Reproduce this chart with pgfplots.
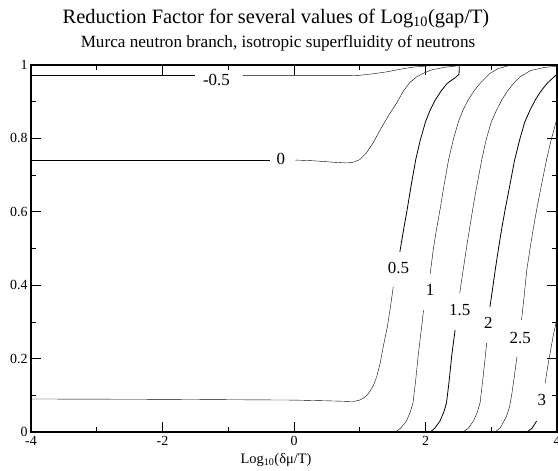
\documentclass[border=0pt]{standalone}
\usepackage{fontspec}
\setmainfont{Liberation Serif}
\usepackage{pgfplots}
\pgfplotsset{compat=1.18}
\begin{document}
\begin{tikzpicture}
\begin{axis}[
  name=ax,
  scale only axis, width=526bp, height=367bp,
  xmin=-4, xmax=4, ymin=0, ymax=1,
  xtick={-4,-2,0,2,4}, ytick={0,0.2,0.4,0.6,0.8,1},
  minor x tick num=1, minor y tick num=1,
  tick align=inside,
  major tick length=10bp, minor tick length=5bp,
  axis on top,
  axis line style={line width=1.5bp},
  every tick/.style={black, line width=0.8bp},
  tick label style={font=\fontsize{14}{14}\selectfont, black},
  xticklabel style={yshift=-1bp},
  /pgf/number format/assume math mode=true,
  cycle list={{black,solid,line width=0.8bp}},
  every axis plot/.append style={no marks},
]
% curve -0.5
\addplot coordinates {(-4,0.971) (-1.51,0.971)};
\addplot coordinates {(-0.78,0.971) (0.85,0.971) (1.0,0.972) (1.2,0.976) (1.4,0.981) (1.6,0.988) (1.8,0.994) (2.0,0.997) (2.2,0.999) (2.5,1.0) (4,1)};
% curve 0
\addplot coordinates {(-4,0.741) (-0.37,0.741)};
\addplot coordinates {(0.02,0.741) (0.3,0.739) (0.6,0.735) (0.8,0.733) (0.9,0.735) (1.0,0.742) (1.1,0.76) (1.2,0.787) (1.31,0.823) (1.45,0.866) (1.56,0.896) (1.66,0.928) (1.76,0.952) (1.86,0.967) (1.96,0.977) (2.1,0.987) (2.3,0.994) (2.5,0.998) (2.7,1) (4,1)};
% curve 0.5
\addplot coordinates {(-4,0.09) (-2,0.089) (0,0.087) (0.5,0.085) (0.9,0.083) (1.0,0.087) (1.06,0.093) (1.11,0.10) (1.16,0.112) (1.21,0.128) (1.26,0.152) (1.31,0.187) (1.36,0.235) (1.42,0.287) (1.47,0.345) (1.51,0.396)};
\addplot coordinates {(1.61,0.491) (1.67,0.555) (1.72,0.605) (1.78,0.67) (1.85,0.741) (1.92,0.795) (2.0,0.845) (2.07,0.877) (2.15,0.905) (2.24,0.93) (2.33,0.95) (2.47,0.968) (2.51,0.975) (2.515,1.0)};
% curve 1
\addplot coordinates {(1.54,0) (1.62,0.01) (1.71,0.03) (1.77,0.055) (1.81,0.08) (1.85,0.14) (1.89,0.21) (1.93,0.27) (1.97,0.332)};
\addplot coordinates {(2.07,0.43) (2.12,0.50) (2.17,0.555) (2.22,0.605) (2.28,0.67) (2.35,0.741) (2.42,0.795) (2.50,0.845) (2.57,0.877) (2.65,0.905) (2.74,0.93) (2.83,0.95) (2.98,0.977) (3.1,0.99) (3.3,1.0) (4,1)};
% curve 1.5
\addplot coordinates {(2.07,0) (2.14,0.01) (2.22,0.03) (2.28,0.055) (2.32,0.08) (2.36,0.14) (2.40,0.21) (2.45,0.278)};
\addplot coordinates {(2.52,0.378) (2.55,0.414) (2.58,0.45) (2.63,0.51) (2.68,0.565) (2.73,0.62) (2.79,0.68) (2.855,0.741) (2.92,0.795) (3.0,0.845) (3.08,0.877) (3.16,0.905) (3.25,0.93) (3.34,0.95) (3.44,0.968) (3.6,0.985) (3.8,0.993) (4,0.997)};
% curve 2
\addplot coordinates {(2.57,0) (2.65,0.01) (2.73,0.03) (2.79,0.055) (2.83,0.08) (2.87,0.14) (2.90,0.19) (2.93,0.242)};
\addplot coordinates {(2.98,0.341) (3.02,0.39) (3.06,0.441) (3.11,0.50) (3.16,0.555) (3.21,0.605) (3.28,0.67) (3.355,0.741) (3.43,0.795) (3.51,0.845) (3.59,0.877) (3.67,0.905) (3.76,0.93) (3.85,0.95) (4.0,0.975)};
% curve 2.5
\addplot coordinates {(3.06,0) (3.14,0.012) (3.23,0.042) (3.28,0.07) (3.31,0.10) (3.35,0.15) (3.39,0.205)};
\addplot coordinates {(3.46,0.305) (3.50,0.37) (3.54,0.441) (3.59,0.50) (3.64,0.555) (3.69,0.605) (3.76,0.67) (3.84,0.741) (3.91,0.795) (4.0,0.855)};
% curve 3
\addplot coordinates {(3.54,0) (3.62,0.01) (3.69,0.03)};
\addplot coordinates {(3.82,0.133) (3.86,0.18) (3.90,0.22) (3.94,0.26) (4.0,0.31)};
% labels
\node[font=\fontsize{17}{17}\selectfont] at (axis cs:-1.18,0.958) {-0.5};
\node[font=\fontsize{17}{17}\selectfont] at (axis cs:-0.20,0.744) {0};
\node[font=\fontsize{17}{17}\selectfont] at (axis cs:1.59,0.446) {0.5};
\node[font=\fontsize{17}{17}\selectfont] at (axis cs:2.07,0.387) {1};
\node[font=\fontsize{17}{17}\selectfont] at (axis cs:2.52,0.332) {1.5};
\node[font=\fontsize{17}{17}\selectfont] at (axis cs:2.955,0.296) {2};
\node[font=\fontsize{17}{17}\selectfont] at (axis cs:3.44,0.255) {2.5};
\node[font=\fontsize{17}{17}\selectfont] at (axis cs:3.77,0.087) {3};
\end{axis}
\node[anchor=base] at ([xshift=245bp,yshift=41.7bp]ax.north west) {\fontsize{20.5}{22}\selectfont Reduction Factor for several values of Log\textsubscript{10}(gap/T)};
\node[anchor=base] at ([xshift=247bp,yshift=17bp]ax.north west) {\fontsize{17.2}{18}\selectfont Murca neutron branch, isotropic superfluidity of neutrons};
\node[anchor=base] at ([xshift=245bp,yshift=-31bp]ax.south west) {\fontsize{14.5}{15}\selectfont Log\textsubscript{10}(δμ/T)};
\pgfresetboundingbox
\path[use as bounding box] ([xshift=-31bp,yshift=-38bp]ax.south west) rectangle ([xshift=1bp,yshift=65bp]ax.north east);
\end{tikzpicture}
\end{document}
